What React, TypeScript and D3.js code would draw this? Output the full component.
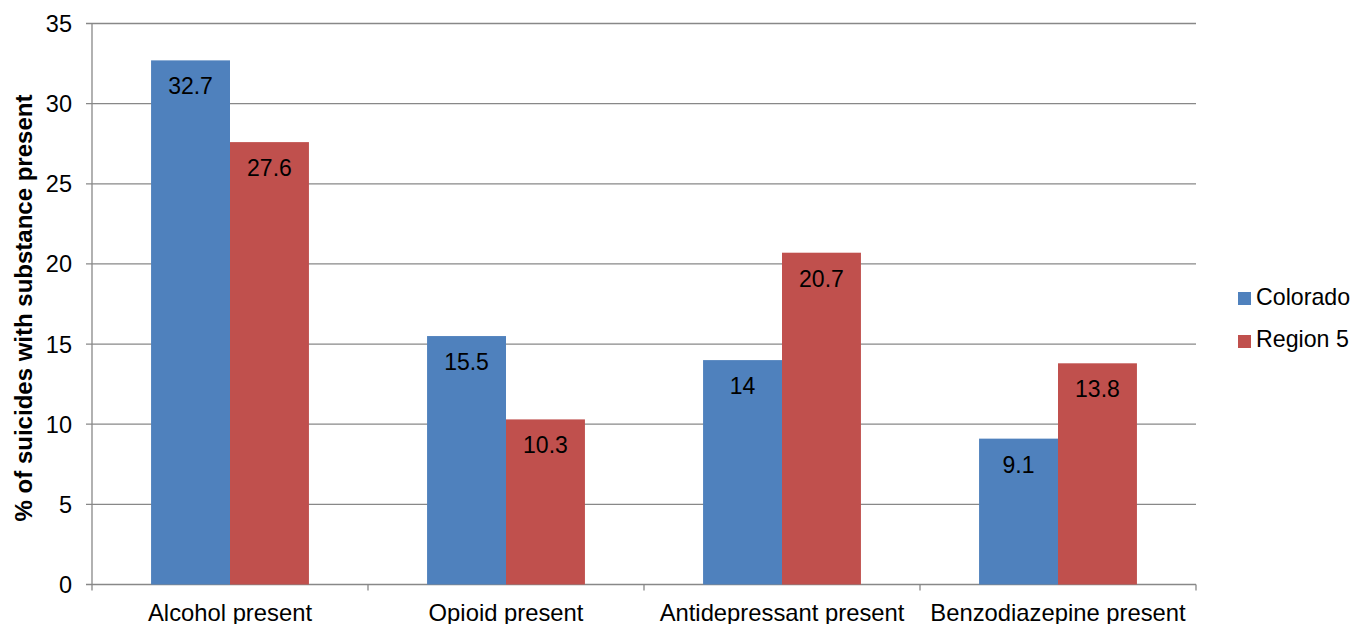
import React from "react";
import * as d3 from "d3";

const categories = ["Alcohol present", "Opioid present", "Antidepressant present", "Benzodiazepine present"];
const seriesNames = ["Colorado", "Region 5"];
const colorado = [32.7, 15.5, 14, 9.1];
const region5 = [27.6, 10.3, 20.7, 13.8];
const yTicks = [0, 5, 10, 15, 20, 25, 30, 35];
const colors = ["#4F81BD", "#C0504D"];

export default function App() {
  const W = 1355, H = 624;
  const left = 92, right = 1196, top = 23.5, bottom = 584.5;
  const x = d3.scaleBand<string>().domain(categories).range([left, right]).paddingInner(0).paddingOuter(0);
  const y = d3.scaleLinear().domain([0, 35]).range([bottom, top]);
  const bw = x.bandwidth();
  const barW = bw * 0.286;
  const series = [colorado, region5];
  const font = "'Liberation Sans', Arial, sans-serif";
  return (
    <svg width={W} height={H} style={{ position: "absolute", left: 0, top: 0 }} fontFamily={font}>
      {yTicks.map((t) => (
        <g key={t}>
          <line x1={left - 6} x2={right} y1={y(t)} y2={y(t)} stroke="#888" strokeWidth={1.3} />
          <text x={72} y={y(t) + 8.5} textAnchor="end" fontSize={23.5} fill="#000">{t}</text>
        </g>
      ))}
      <line x1={left} x2={left} y1={top} y2={bottom + 6} stroke="#888" strokeWidth={1.3} />
      {categories.map((c, i) => (
        <line key={"t" + i} x1={(x(c) as number) + bw} x2={(x(c) as number) + bw} y1={bottom} y2={bottom + 6} stroke="#888" strokeWidth={1.3} />
      ))}
      {categories.map((c, i) => {
        const cx = (x(c) as number) + bw / 2;
        return (
          <g key={c}>
            {series.map((s, j) => {
              const bx = cx - barW + j * barW;
              return (
                <g key={j}>
                  <rect x={bx} y={y(s[i])} width={barW} height={bottom - y(s[i])} fill={colors[j]} />
                  <text x={bx + barW / 2} y={y(s[i]) + 34} textAnchor="middle" fontSize={23} fill="#000">{s[i]}</text>
                </g>
              );
            })}
            <text x={cx} y={621} textAnchor="middle" fontSize={23.8} fill="#000">{c}</text>
          </g>
        );
      })}
      <text transform={`translate(32,${(top + bottom) / 2 + 4}) rotate(-90)`} textAnchor="middle" fontSize={24} fontWeight="bold" fill="#000">% of suicides with substance present</text>
      {seriesNames.map((n, j) => (
        <g key={n}>
          <rect x={1238} y={292 + j * 43} width={13} height={13} fill={colors[j]} />
          <text x={1256} y={305 + j * 42} fontSize={23.2} fill="#000">{n}</text>
        </g>
      ))}
    </svg>
  );
}
